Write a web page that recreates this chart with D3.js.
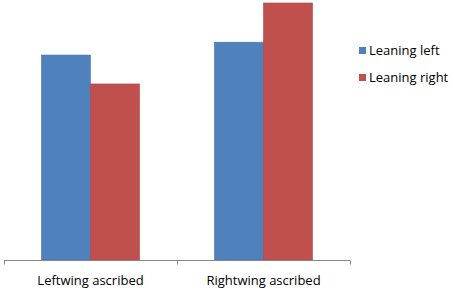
<!DOCTYPE html>
<html>
<head>
<meta charset="utf-8">
<script src="https://cdn.jsdelivr.net/npm/d3@7"></script>
<style>
  body { margin: 0; background: #fff; }
  text { font-family: "Open Sans", "DejaVu Sans", sans-serif; }
</style>
</head>
<body>
<svg id="chart" width="454" height="290"></svg>
<script>
// Chart data
const categories = ["Leftwing ascribed", "Rightwing ascribed"];
const seriesNames = ["Leaning left", "Leaning right"];
const leaningLeft = [3.19, 3.39];
const leaningRight = [2.74, 4.0];
const seriesColors = ["#4F81BD", "#C0504D"];

const svg = d3.select("#chart");
const plot = { left: 4, right: 350, top: 3, bottom: 260 };

const x = d3.scaleBand()
    .domain(categories)
    .range([plot.left, plot.right])
    .paddingInner(0)
    .paddingOuter(0);

const xInner = d3.scaleBand()
    .domain(seriesNames)
    .range([0, x.bandwidth()])
    .paddingInner(0)
    .paddingOuter(0.765);

const y = d3.scaleLinear()
    .domain([0, 4.0])
    .range([plot.bottom, plot.top]);

const rows = categories.map((c, i) => ({
    category: c,
    values: [
        { series: seriesNames[0], value: leaningLeft[i], color: seriesColors[0] },
        { series: seriesNames[1], value: leaningRight[i], color: seriesColors[1] }
    ]
}));

// Bars
const groups = svg.append("g")
    .selectAll("g")
    .data(rows)
    .join("g")
    .attr("transform", d => `translate(${x(d.category)},0)`);

groups.selectAll("rect")
    .data(d => d.values)
    .join("rect")
    .attr("x", d => xInner(d.series))
    .attr("y", d => y(d.value))
    .attr("width", xInner.bandwidth())
    .attr("height", d => y(0) - y(d.value))
    .attr("fill", d => d.color)
    .attr("stroke", d => d3.color(d.color).darker(0.3))
    .attr("stroke-width", 0.6);

// X axis
const xAxis = d3.axisBottom(x)
    .tickSize(0)
    .tickPadding(0);

const axisG = svg.append("g")
    .attr("transform", `translate(0,${plot.bottom + 0.5})`)
    .call(xAxis);
axisG.select(".domain").remove();
axisG.selectAll("text")
    .attr("y", 24)
    .attr("dy", 0)
    .style("font-size", "13px")
    .style("fill", "#000");

axisG.append("line")
    .attr("x1", plot.left)
    .attr("x2", plot.right)
    .attr("stroke", "#868686")
    .attr("stroke-width", 1);

// boundary ticks between categories
const boundaries = [plot.left, ...categories.map(c => x(c) + x.bandwidth())];
axisG.selectAll(".btick")
    .data(boundaries)
    .join("line")
    .attr("class", "btick")
    .attr("x1", d => Math.round(d) + 0.5)
    .attr("x2", d => Math.round(d) + 0.5)
    .attr("y1", 0)
    .attr("y2", 4)
    .attr("stroke", "#868686");

// Legend
const legend = svg.append("g")
    .attr("transform", "translate(359,47)");

const legendItems = legend.selectAll("g")
    .data(seriesNames)
    .join("g")
    .attr("transform", (d, i) => `translate(0,${i * 27})`);

legendItems.append("rect")
    .attr("width", 7)
    .attr("height", 7)
    .attr("fill", (d, i) => seriesColors[i]);

legendItems.append("text")
    .attr("x", 10)
    .attr("y", 8)
    .style("font-size", "13px")
    .style("fill", "#000")
    .text(d => d);
</script>
</body>
</html>
